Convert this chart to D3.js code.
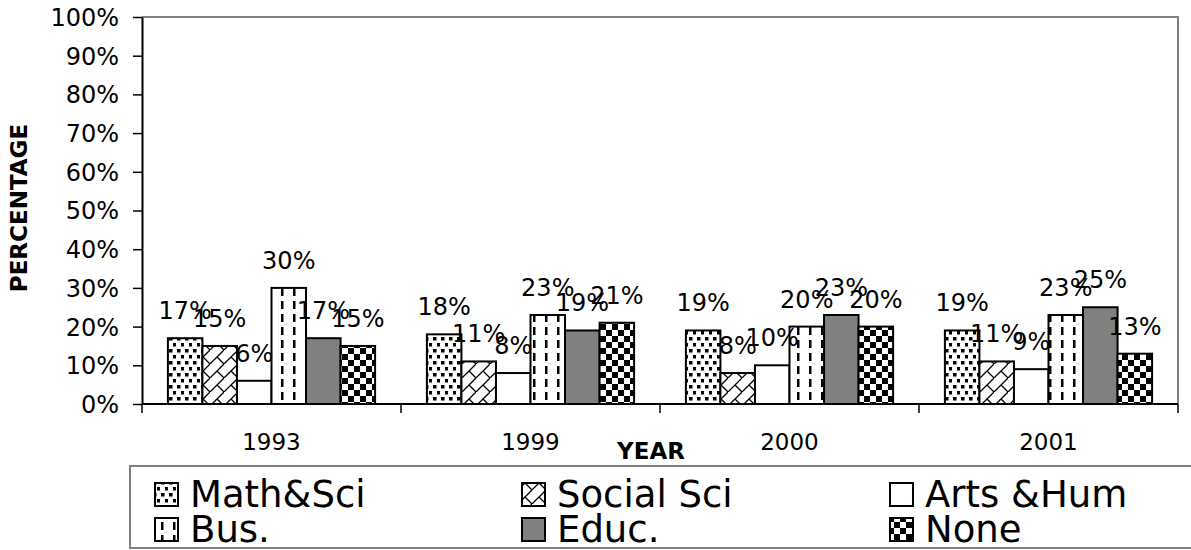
<!DOCTYPE html>
<html><head><meta charset="utf-8">
<script src="https://cdn.jsdelivr.net/npm/d3@7"></script>
<style>
body{margin:0;background:#fff;}
text{font-family:"DejaVu Sans",Verdana,sans-serif;fill:#000;}
</style></head>
<body><svg id="c" width="1191" height="550"></svg>
<script>
const years = ["1993","1999","2000","2001"];
const seriesNames = ["Math&Sci","Social Sci","Arts &Hum","Bus.","Educ.","None"];
const mathSci = [17,18,19,19];
const socialSci = [15,11,8,11];
const artsHum = [6,8,10,9];
const bus = [30,23,20,23];
const educ = [17,19,23,25];
const none = [15,21,20,13];
const yTicks = [0,10,20,30,40,50,60,70,80,90,100];
const seriesValues = [mathSci, socialSci, artsHum, bus, educ, none];
const fills = ["url(#pMath)","url(#pSoc)","#fff","url(#pBus)","#808080","url(#pNone)"];

const svg = d3.select("#c");
const defs = svg.append("defs");
// Math & Sci dots
let p = defs.append("pattern").attr("id","pMath").attr("patternUnits","userSpaceOnUse").attr("width",8).attr("height",12);
p.append("rect").attr("width",8).attr("height",12).attr("fill","#fff");
p.append("rect").attr("x",1).attr("y",1).attr("width",3.5).attr("height",3.5).attr("fill","#000");
p.append("rect").attr("x",5).attr("y",7).attr("width",3).attr("height",3.5).attr("fill","#000");
// Social Sci diagonal brick
p = defs.append("pattern").attr("id","pSoc").attr("patternUnits","userSpaceOnUse").attr("width",14).attr("height",14);
p.append("rect").attr("width",14).attr("height",14).attr("fill","#fff");
p.append("path").attr("d","M0,14L14,0M7,7L14,14").attr("stroke","#000").attr("stroke-width",1.3).attr("fill","none");
// Bus dashed verticals
p = defs.append("pattern").attr("id","pBus").attr("patternUnits","userSpaceOnUse").attr("width",12).attr("height",13);
p.append("rect").attr("width",12).attr("height",13).attr("fill","#fff");
p.append("rect").attr("x",5).attr("y",2).attr("width",2.5).attr("height",8).attr("fill","#000");
// None checker
p = defs.append("pattern").attr("id","pNone").attr("patternUnits","userSpaceOnUse").attr("width",12).attr("height",12);
p.append("rect").attr("width",12).attr("height",12).attr("fill","#fff");
p.append("rect").attr("x",0).attr("y",0).attr("width",6).attr("height",6).attr("fill","#000");
p.append("rect").attr("x",6).attr("y",6).attr("width",6).attr("height",6).attr("fill","#000");

const L = 142, R = 1178, T = 17, B = 404;
const y = d3.scaleLinear().domain([0,100]).range([B,T]);
const x0 = d3.scaleBand().domain(years).range([L,R]).padding(0);
const x1 = d3.scaleBand().domain(seriesNames).range([0,x0.bandwidth()]).paddingInner(0).paddingOuter(0.75);

// plot area border (gray)
svg.append("path").attr("d",`M${L},${T}H${R}V${B}`).attr("fill","none").attr("stroke","#808080").attr("stroke-width",2);

// bars
const g = svg.append("g");
years.forEach((yr,i)=>{
  seriesNames.forEach((s,j)=>{
    const v = seriesValues[j][i];
    g.append("rect").attr("x",x0(yr)+x1(s)).attr("y",y(v))
      .attr("width",x1.bandwidth()).attr("height",B-y(v))
      .attr("fill",fills[j]).attr("stroke","#000").attr("stroke-width",2);
  });
});
// labels
years.forEach((yr,i)=>{
  seriesNames.forEach((s,j)=>{
    const v = seriesValues[j][i];
    svg.append("text").attr("x",x0(yr)+x1(s)+x1.bandwidth()/2).attr("y",y(v)-19)
      .attr("text-anchor","middle").style("font-size","24px").text(v+"%");
  });
});

// y axis
const yAxis = d3.axisLeft(y).tickValues(yTicks).tickFormat(d=>d+"%").tickSize(9).tickSizeOuter(0).tickPadding(14);
const ya = svg.append("g").attr("transform",`translate(${L},0)`).call(yAxis);
ya.selectAll("text").style("font-size","24px").style("font-family",'"DejaVu Sans",Verdana,sans-serif').attr("dy","0.35em");
ya.select(".domain").attr("stroke","#000").attr("stroke-width",2);
ya.selectAll(".tick line").attr("stroke","#000").attr("stroke-width",1.5);

// x axis
const xa = svg.append("g").attr("transform",`translate(0,${B})`);
xa.append("line").attr("x1",L).attr("x2",R).attr("stroke","#000").attr("stroke-width",2);
xa.selectAll(".sep").data(years.concat(["end"])).enter().append("line")
  .attr("x1",(d,i)=> i<years.length ? x0(d) : R).attr("x2",(d,i)=> i<years.length ? x0(d) : R)
  .attr("y1",0).attr("y2",9).attr("stroke","#000").attr("stroke-width",1.5);
xa.selectAll(".lab").data(years).enter().append("text")
  .attr("x",d=>x0(d)+x0.bandwidth()/2).attr("y",46).attr("text-anchor","middle")
  .style("font-size","23px").text(d=>d);

// axis titles
svg.append("text").attr("transform","translate(27,208) rotate(-90)").attr("text-anchor","middle")
  .style("font-size","23px").style("font-weight","bold").text("PERCENTAGE");
svg.append("text").attr("x",651).attr("y",459).attr("text-anchor","middle")
  .style("font-size","23px").style("font-weight","bold").text("YEAR");

// legend
svg.append("rect").attr("x",130).attr("y",466).attr("width",1100).attr("height",82)
  .attr("fill","#fff").attr("stroke","#808080").attr("stroke-width",2);
const colX = [155,522,890];
const rowY = [507,542];
seriesNames.forEach((s,j)=>{
  const cx = colX[j%3], by = rowY[Math.floor(j/3)];
  svg.append("rect").attr("x",cx).attr("y",by-24).attr("width",23).attr("height",23)
    .attr("fill",fills[j]).attr("stroke","#000").attr("stroke-width",2);
  svg.append("text").attr("x",cx+35).attr("y",by).style("font-size","37px").text(s);
});
</script></body></html>
